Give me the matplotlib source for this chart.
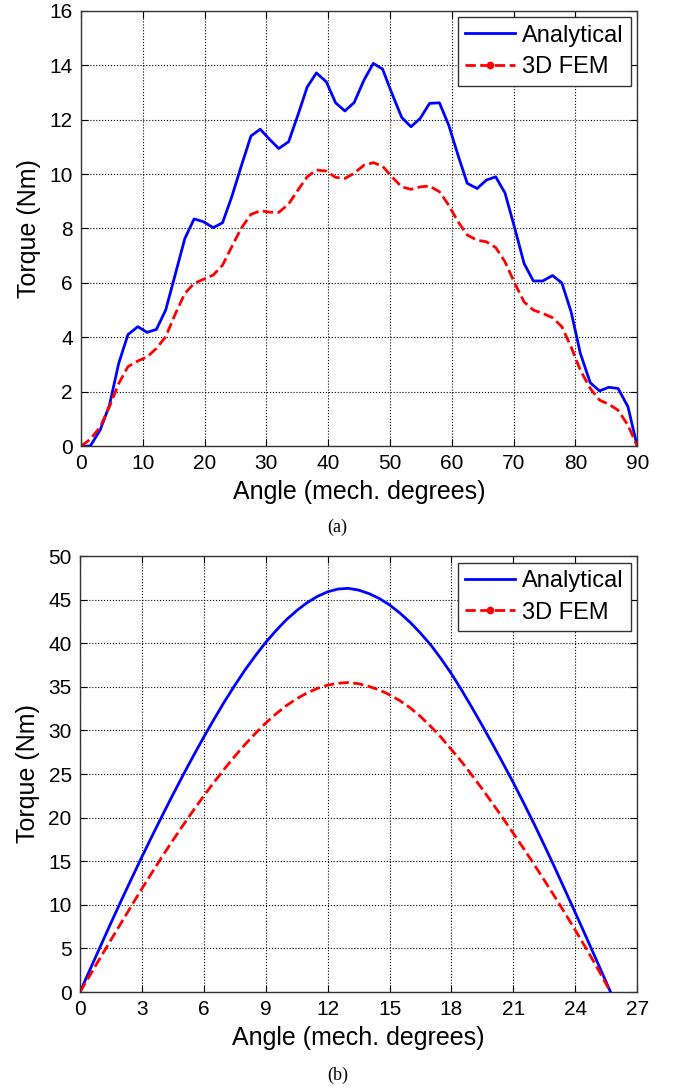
import matplotlib
matplotlib.use('Agg')
import matplotlib.pyplot as plt
from matplotlib.lines import Line2D

plt.rcParams['font.family'] = ['Liberation Sans', 'DejaVu Sans']

# (a) torque vs angle, 0-90 mech. degrees
angle_a = [0.0, 1.5, 3.1, 4.6, 6.1, 7.6, 9.2, 10.7, 12.2, 13.7,
           15.3, 16.8, 18.3, 19.8, 21.4, 22.9, 24.4, 25.9, 27.5, 29.0,
           30.5, 32.0, 33.6, 35.1, 36.6, 38.1, 39.7, 41.2, 42.7, 44.2,
           45.8, 47.3, 48.8, 50.3, 51.9, 53.4, 54.9, 56.4, 58.0, 59.5,
           61.0, 62.5, 64.1, 65.6, 67.1, 68.6, 70.2, 71.7, 73.2, 74.7,
           76.3, 77.8, 79.3, 80.8, 82.4, 83.9, 85.4, 86.9, 88.5, 90.0]
analytical_a = [0.0, 0.0, 0.59, 1.5, 3.04, 4.1, 4.39, 4.18, 4.29, 5.0,
                6.35, 7.63, 8.35, 8.25, 8.03, 8.21, 9.17, 10.27, 11.4, 11.65,
                11.28, 10.94, 11.19, 12.17, 13.2, 13.72, 13.39, 12.62, 12.32, 12.63,
                13.46, 14.07, 13.86, 12.97, 12.08, 11.74, 12.05, 12.6, 12.62, 11.8,
                10.7, 9.66, 9.47, 9.78, 9.9, 9.31, 8.0, 6.71, 6.07, 6.07,
                6.27, 6.0, 4.94, 3.41, 2.33, 2.03, 2.16, 2.12, 1.45, 0.0]
fem_a = [0.0, 0.25, 0.7, 1.45, 2.3, 2.92, 3.13, 3.28, 3.59, 4.02,
         4.88, 5.61, 5.98, 6.13, 6.29, 6.65, 7.33, 8.0, 8.52, 8.65,
         8.60, 8.59, 8.9, 9.41, 9.9, 10.15, 10.11, 9.88, 9.84, 10.03,
         10.33, 10.42, 10.29, 9.9, 9.53, 9.44, 9.53, 9.56, 9.35, 8.86,
         8.25, 7.76, 7.57, 7.51, 7.3, 6.78, 5.98, 5.3, 5.0, 4.88,
         4.72, 4.39, 3.65, 2.79, 2.12, 1.69, 1.54, 1.32, 0.77, 0.0]

# (b) torque vs angle over one pole pitch (360/14 deg)
angle_b = [0, 0.5, 1, 1.5, 2, 2.5, 3, 3.5, 4, 4.5, 5, 5.5, 6, 6.5, 7, 7.5,
           8, 8.5, 9, 9.5, 10, 10.5, 11, 11.5, 12, 12.5, 13, 13.5, 14, 14.5,
           15, 15.5, 16, 16.5, 17, 17.5, 18, 18.5, 19, 19.5, 20, 20.5, 21,
           21.5, 22, 22.5, 23, 23.5, 24, 24.5, 25, 25.71]
analytical_b = [0, 2.66, 5.3, 7.92, 10.5, 13.02, 15.5, 17.93, 20.3, 22.63,
                24.9, 27.11, 29.25, 31.31, 33.3, 35.17, 36.95, 38.58, 40.1, 41.46,
                42.7, 43.74, 44.65, 45.37, 45.9, 46.22, 46.3, 46.1, 45.7, 45.14,
                44.4, 43.47, 42.4, 41.16, 39.8, 38.21, 36.5, 34.6, 32.6, 30.53,
                28.4, 26.22, 24.0, 21.68, 19.3, 16.83, 14.3, 11.71, 9.1, 6.46,
                3.8, 0]
fem_b = [0, 2.0, 4.0, 5.98, 7.95, 9.91, 11.85, 13.74, 15.6, 17.4,
         19.15, 20.85, 22.5, 24.08, 25.6, 27.04, 28.4, 29.67, 30.85, 31.91,
         32.85, 33.64, 34.3, 34.82, 35.2, 35.41, 35.5, 35.36, 35.05, 34.65,
         34.1, 33.42, 32.6, 31.6, 30.45, 29.2, 27.8, 26.39, 24.85, 23.26,
         21.6, 19.92, 18.2, 16.45, 14.65, 12.82, 10.95, 9.04, 7.1, 5.1,
         3.05, 0]

xticks_a = range(0, 91, 10)
yticks_a = range(0, 17, 2)
xticks_b = range(0, 28, 3)
yticks_b = range(0, 51, 5)

fig = plt.figure(figsize=(6.75, 10.88), dpi=100)
ax1 = fig.add_axes([0.12, 0.590, 0.824, 0.400])
ax2 = fig.add_axes([0.1185, 0.0882, 0.8255, 0.4007])

panels = [(ax1, angle_a, analytical_a, fem_a, xticks_a, yticks_a, (0, 90), (0, 16)),
          (ax2, angle_b, analytical_b, fem_b, xticks_b, yticks_b, (0, 27), (0, 50))]

for ax, x, y1, y2, xt, yt, xl, yl in panels:
    ax.plot(x, y1, color='#0000ff', lw=2.0)
    ax.plot(x, y2, color='#ff0000', lw=2.0, ls='--')
    ax.set_xlim(*xl)
    ax.set_ylim(*yl)
    ax.set_xticks(list(xt))
    ax.set_yticks(list(yt))
    ax.grid(True, color='black', ls=':', lw=0.8)
    ax.tick_params(direction='in', top=True, right=True, length=5,
                   labelsize=15, pad=6)
    for s in ax.spines.values():
        s.set_color('#333333')
        s.set_linewidth(1.0)
    ax.set_xlabel('Angle (mech. degrees)', fontsize=18, labelpad=5)
    ax.set_ylabel('Torque (Nm)', fontsize=18, labelpad=6)
    handles = [Line2D([], [], color='#0000ff', lw=2.0),
               Line2D([], [], color='#ff0000', lw=2.0, ls='--', marker='.', markersize=9)]
    leg = ax.legend(handles, ['Analytical', '3D FEM'], loc='upper right',
                    fontsize=17, numpoints=1, fancybox=False, framealpha=1,
                    edgecolor='#333333', borderaxespad=0.28, handlelength=2.1,
                    handletextpad=0.3, labelspacing=0.42, borderpad=0.3)
    leg.get_frame().set_linewidth(1.0)

fig.text(0.5, 1 - 527 / 1088, '(a)', ha='center', va='center',
         fontsize=13, family='Liberation Serif')
fig.text(0.5, 1 - 1075 / 1088, '(b)', ha='center', va='center',
         fontsize=13, family='Liberation Serif')

plt.savefig('out.png', dpi=100)
